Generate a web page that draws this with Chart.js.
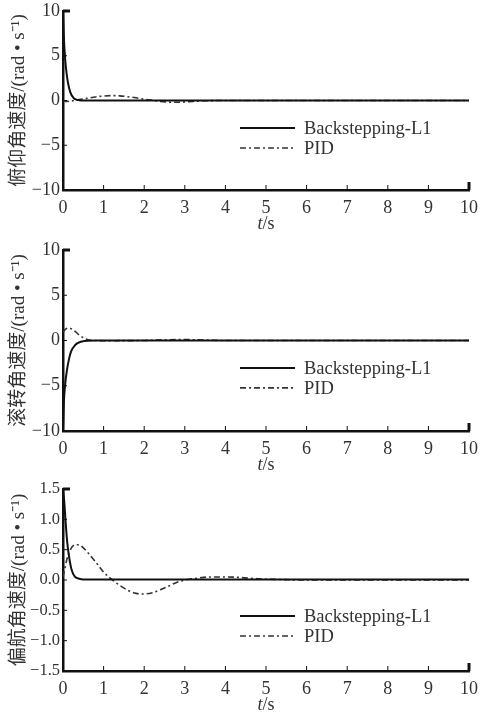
<!DOCTYPE html>
<html>
<head>
<meta charset="utf-8">
<script src="https://cdn.jsdelivr.net/npm/chart.js@4.4.1/dist/chart.umd.min.js"></script>
<style>
  body { margin: 0; background: #fff; }
  canvas { display: block; }
</style>
</head>
<body>
<canvas id="pitch" width="480" height="235"></canvas>
<canvas id="roll" width="480" height="240"></canvas>
<canvas id="yaw" width="480" height="238"></canvas>
<script>
// series names
const seriesNames = ['Backstepping-L1', 'PID'];

// time axis ticks (s)
const timeTicks = [0, 1, 2, 3, 4, 5, 6, 7, 8, 9, 10];

// pitch rate (rad/s)
const pitchBsTime = [0, 0.02, 0.05, 0.1, 0.15, 0.2, 0.25, 0.3, 0.4, 0.5, 10];
const pitchBsRate = [10, 7.2, 4.8, 2.6, 1.4, 0.7, 0.35, 0.15, 0.03, 0, 0];
const pitchPidTime = [0, 0.1, 0.2, 0.4, 0.6, 0.8, 1.0, 1.2, 1.4, 1.6, 1.8, 2.0, 2.2, 2.4, 2.6, 2.8, 3.0, 3.2, 3.5, 4.0, 10];
const pitchPidRate = [0, -0.1, -0.05, 0.1, 0.25, 0.4, 0.5, 0.55, 0.52, 0.42, 0.3, 0.15, 0.02, -0.1, -0.18, -0.2, -0.17, -0.1, -0.03, 0, 0];

// roll rate (rad/s)
const rollBsTime = [0, 0.02, 0.05, 0.1, 0.15, 0.2, 0.3, 0.4, 0.5, 0.6, 0.8, 10];
const rollBsRate = [-10, -7, -5, -3.2, -2, -1.2, -0.5, -0.2, -0.07, -0.02, 0, 0];
const rollPidTime = [0, 0.05, 0.1, 0.15, 0.2, 0.3, 0.4, 0.5, 0.6, 0.7, 0.8, 1.0, 2.0, 2.5, 3.0, 3.5, 4.0, 10];
const rollPidRate = [0.9, 1.2, 1.35, 1.38, 1.3, 1.0, 0.6, 0.3, 0.12, 0.03, 0, -0.02, 0, 0.08, 0.1, 0.05, 0, 0];

// yaw rate (rad/s)
const yawBsTime = [0, 0.03, 0.05, 0.1, 0.15, 0.2, 0.25, 0.3, 0.4, 0.5, 0.7, 10];
const yawBsRate = [1.5, 1.3, 1.1, 0.65, 0.38, 0.2, 0.1, 0.05, 0.02, 0.01, 0.01, 0.01];
const yawPidTime = [0, 0.1, 0.2, 0.3, 0.4, 0.5, 0.6, 0.8, 1.0, 1.2, 1.4, 1.6, 1.8, 2.0, 2.2, 2.4, 2.6, 2.8, 3.0, 3.3, 3.6, 4.0, 4.4, 4.8, 5.2, 6.0, 10];
const yawPidRate = [0.05, 0.35, 0.52, 0.58, 0.58, 0.53, 0.46, 0.3, 0.13, 0.01, -0.09, -0.17, -0.22, -0.23, -0.21, -0.16, -0.1, -0.04, 0, 0.03, 0.05, 0.05, 0.04, 0.02, 0.01, 0, 0];

const fontFamily = '"Liberation Serif", "Noto Sans CJK SC", serif';
Chart.defaults.font.family = fontFamily;
Chart.defaults.font.size = 18;
Chart.defaults.color = '#333';

const pairs = (t, v) => t.map((x, i) => ({ x: x, y: v[i] }));
const minus = (s) => String(s).replace('-', '\u2212');

// legend drawn inside the plot area
const insideLegend = {
  id: 'insideLegend',
  afterDatasetsDraw(chart, args, opts) {
    const { ctx, chartArea: a } = chart;
    const x0 = a.left + a.width * opts.x;
    chart.data.datasets.forEach((ds, i) => {
      const y = a.top + a.height * opts.y[i];
      ctx.save();
      ctx.strokeStyle = ds.borderColor;
      ctx.lineWidth = ds.borderWidth;
      ctx.setLineDash(ds.borderDash || []);
      ctx.beginPath();
      ctx.moveTo(x0, y);
      ctx.lineTo(x0 + 55, y);
      ctx.stroke();
      ctx.setLineDash([]);
      ctx.fillStyle = '#333';
      ctx.font = '18.5px ' + fontFamily;
      ctx.textBaseline = 'middle';
      ctx.fillText(ds.label, x0 + 64, y + 1);
      ctx.restore();
    });
  }
};

// inward tick marks + "t/s" title
const innerTicks = {
  id: 'innerTicks',
  afterDraw(chart) {
    const { ctx, scales: { x, y }, chartArea: a } = chart;
    ctx.save();
    ctx.strokeStyle = '#111';
    x.ticks.forEach((t, i) => {
      const px = x.getPixelForValue(t.value);
      const last = i === x.ticks.length - 1;
      ctx.lineWidth = last ? 3 : 1;
      ctx.beginPath();
      ctx.moveTo(px, a.bottom);
      ctx.lineTo(px, a.bottom - (last ? 8 : 5));
      ctx.stroke();
    });
    y.ticks.forEach((t, i) => {
      const py = y.getPixelForValue(t.value);
      const last = i === y.ticks.length - 1;
      ctx.lineWidth = last ? 3 : 1;
      ctx.beginPath();
      ctx.moveTo(a.left, py);
      ctx.lineTo(a.left + (last ? 7 : 4), py);
      ctx.stroke();
    });
    // x title: italic t + /s
    ctx.fillStyle = '#333';
    ctx.textBaseline = 'middle';
    const cx = (a.left + a.right) / 2;
    const ty = a.bottom + 34;
    ctx.font = 'italic 18px ' + fontFamily;
    const wt = ctx.measureText('t').width;
    ctx.font = '18px ' + fontFamily;
    const ws = ctx.measureText('/s').width;
    const sx = cx - (wt + ws) / 2;
    ctx.font = 'italic 18px ' + fontFamily;
    ctx.fillText('t', sx, ty);
    ctx.font = '18px ' + fontFamily;
    ctx.fillText('/s', sx + wt, ty);
    ctx.restore();
  }
};

function makeChart(id, opt) {
  return new Chart(document.getElementById(id), {
    type: 'line',
    data: {
      datasets: [
        {
          label: seriesNames[0],
          data: pairs(opt.bsTime, opt.bsRate),
          borderColor: '#111',
          borderWidth: 2,
          pointRadius: 0,
          cubicInterpolationMode: 'monotone'
        },
        {
          label: seriesNames[1],
          data: pairs(opt.pidTime, opt.pidRate),
          borderColor: '#333',
          borderWidth: 1.6,
          borderDash: [6, 3, 2, 3],
          pointRadius: 0,
          cubicInterpolationMode: 'monotone'
        }
      ]
    },
    options: {
      responsive: false,
      animation: false,
      layout: { padding: { top: opt.padTop, right: 11, left: 0, bottom: 0 } },
      plugins: {
        legend: { display: false },
        tooltip: { enabled: false },
        insideLegend: { x: 0.436, y: opt.legendY }
      },
      scales: {
        x: {
          type: 'linear',
          min: 0,
          max: 10,
          afterBuildTicks: (s) => { s.ticks = timeTicks.map(v => ({ value: v })); },
          afterFit: (s) => { s.height = opt.xHeight; s.paddingLeft = 0; s.paddingRight = 0; },
          grid: { display: false, drawTicks: false },
          border: { display: true, width: 2.5, color: '#111' },
          ticks: { padding: 7, maxRotation: 0, autoSkip: false, font: { size: 18 } }
        },
        y: {
          type: 'linear',
          min: opt.yMin,
          max: opt.yMax,
          afterBuildTicks: (s) => { s.ticks = opt.yTicks.map(v => ({ value: v })); },
          afterFit: (s) => { s.width = 63; s.paddingTop = 0; s.paddingBottom = 0; },
          grid: { display: false, drawTicks: false },
          border: { display: true, width: 2.5, color: '#111' },
          ticks: { padding: 3, font: { size: opt.yFont }, callback: opt.fmt },
          title: {
            display: true,
            text: opt.yTitle,
            font: { size: 19 },
            padding: { top: 8, bottom: 0 }
          }
        }
      }
    },
    plugins: [insideLegend, innerTicks]
  });
}

const wholeTicks = [-10, -5, 0, 5, 10];
const yawTicks = [-1.5, -1.0, -0.5, 0, 0.5, 1.0, 1.5];

makeChart('pitch', {
  bsTime: pitchBsTime, bsRate: pitchBsRate, pidTime: pitchPidTime, pidRate: pitchPidRate,
  yMin: -10, yMax: 10, yTicks: wholeTicks, fmt: (v) => minus(v), yFont: 18,
  yTitle: '俯仰角速度/(rad • s⁻¹)', padTop: 11, xHeight: 45, legendY: [0.654, 0.765]
});
makeChart('roll', {
  bsTime: rollBsTime, bsRate: rollBsRate, pidTime: rollPidTime, pidRate: rollPidRate,
  yMin: -10, yMax: 10, yTicks: wholeTicks, fmt: (v) => minus(v), yFont: 18,
  yTitle: '滚转角速度/(rad • s⁻¹)', padTop: 15, xHeight: 44, legendY: [0.652, 0.762]
});
makeChart('yaw', {
  bsTime: yawBsTime, bsRate: yawBsRate, pidTime: yawPidTime, pidRate: yawPidRate,
  yMin: -1.5, yMax: 1.5, yTicks: yawTicks, fmt: (v) => minus(Number(v).toFixed(1)), yFont: 16.5,
  yTitle: '偏航角速度/(rad • s⁻¹)', padTop: 14, xHeight: 42, legendY: [0.698, 0.808]
});
</script>
</body>
</html>
